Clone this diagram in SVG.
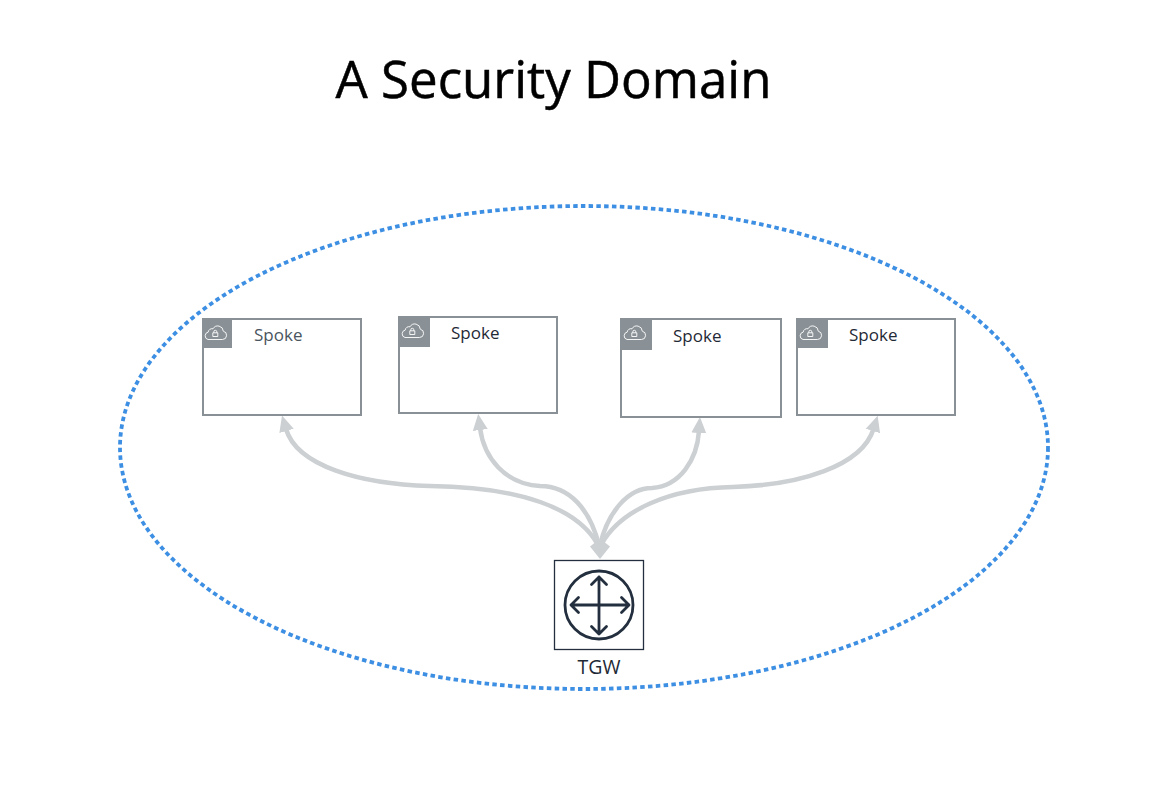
<svg xmlns="http://www.w3.org/2000/svg" width="1172" height="794" viewBox="0 0 1172 794">
<style>
text{font-family:"Open Sans","Noto Sans","Liberation Sans",sans-serif}
.title{font-size:51px;fill:#000;stroke:#000;stroke-width:.5}
.lbl{font-size:17px;fill:#1f2a36}
.tl{font-size:19.500px;fill:#1f2a36}
.box{fill:#fff;stroke:#8a9196;stroke-width:2}
.tab{fill:#8a9196}
.cl{fill:none;stroke:#fff;stroke-width:.9;stroke-linejoin:round}
.conn{fill:none;stroke:#ccd0d3;stroke-width:4.500}
.hd{fill:#ccd0d3}
.tg{fill:none;stroke:#232f3e;stroke-width:2.800;stroke-linecap:round;stroke-linejoin:round}
</style>
<defs>
<marker id="ah" markerUnits="userSpaceOnUse" markerWidth="20" markerHeight="20" refX="2" refY="10" orient="auto">
<path d="M0 10L0 2.500L16 10L0 17.500Z" fill="#ccd0d3"/>
</marker>
<g id="cloud">
<path class="cl" d="M6 20.500h14.500a4.200 4.200 0 0 0 .8-8.300a5.500 5.500 0 0 0-10.300-2.400a3.800 3.800 0 0 0-4.800 3.300a3.800 3.800 0 0 0-.2 7.400z"/>
<rect class="cl" x="10.800" y="13.800" width="5" height="3.700"/>
<path class="cl" d="M11.800 13.800v-1a1.500 1.500 0 0 1 3 0v1"/>
</g>
</defs>
<rect width="1172" height="794" fill="#fff"/>
<text id="title" class="title" x="553.500" y="98" text-anchor="middle">A Security Domain</text>
<ellipse id="domain" cx="584" cy="447.500" rx="464" ry="241.500" fill="none" stroke="#3d8fe3" stroke-width="3.800" stroke-dasharray="4.500 3.300"/>
<g id="connectors">
<path class="conn" marker-end="url(#ah)" d="M598 545C578 508 520 487 430 486C360 484 297 466 286 429"/>
<path class="conn" marker-end="url(#ah)" d="M599 545C590 510 570 486 540 486C505 484 484 458 480 428"/>
<path class="conn" marker-end="url(#ah)" d="M600 545C608 512 628 488 652 488C680 486 697 460 699 431"/>
<path class="conn" marker-end="url(#ah)" d="M601 545C620 510 670 488 733 487C800 485 862 466 873.500 429"/>
<path class="hd" d="M590 546.500L597 541L603 541L610 546.500L600 559Z"/>
</g>
<g id="spoke1">
<rect class="box" x="203" y="319" width="158" height="96"/>
<rect class="tab" x="203" y="319" width="29" height="29"/>
<use href="#cloud" x="202" y="319"/>
<text class="lbl" x="254" y="341" style="fill:#4a5560">Spoke</text>
</g>
<g id="spoke2">
<rect class="box" x="399" y="317" width="158" height="96"/>
<rect class="tab" x="399" y="317" width="31" height="30"/>
<use href="#cloud" x="399" y="317"/>
<text class="lbl" x="451" y="339">Spoke</text>
</g>
<g id="spoke3">
<rect class="box" x="621" y="319" width="160" height="98"/>
<rect class="tab" x="621" y="319" width="31" height="31"/>
<use href="#cloud" x="621" y="319"/>
<text class="lbl" x="673" y="342">Spoke</text>
</g>
<g id="spoke4">
<rect class="box" x="797" y="319" width="158" height="96"/>
<rect class="tab" x="797" y="319" width="31" height="29"/>
<use href="#cloud" x="797" y="319"/>
<text class="lbl" x="849" y="341">Spoke</text>
</g>
<g id="tgw">
<rect x="554.500" y="560.500" width="89" height="89" fill="#fff" stroke="#232f3e" stroke-width="1.300"/>
<circle class="tg" cx="599" cy="605" r="34"/>
<path class="tg" d="M599 577V634M571 605H629M591.500 584.500L599 577L606.500 584.500M591.500 626.500L599 634L606.500 626.500M578.500 597.500L571 605L578.500 612.500M621.500 597.500L629 605L621.500 612.500"/>
<text class="tl" x="599" y="674" text-anchor="middle">TGW</text>
</g>
</svg>
